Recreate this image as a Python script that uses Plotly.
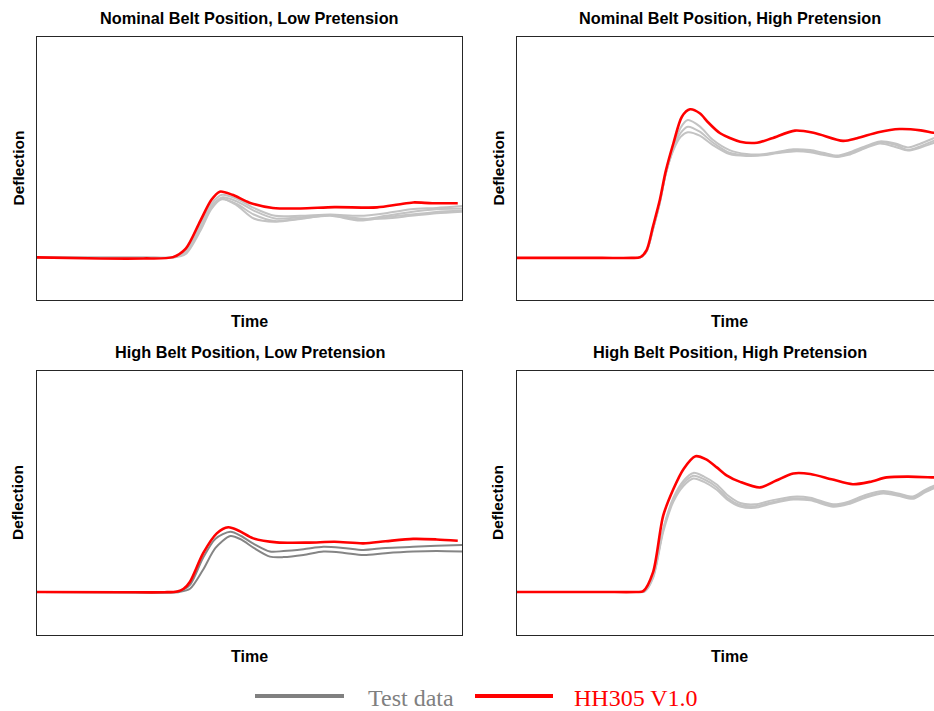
import plotly.graph_objects as go

W, H = 934, 711

# ---------------- data (Deflection in % of axis height, Time in % of panel width) ----------------
titles = ["Nominal Belt Position, Low Pretension", "Nominal Belt Position, High Pretension",
          "High Belt Position, Low Pretension", "High Belt Position, High Pretension"]

# Panel 1: Nominal belt, low pretension
p1_red_t = [0, 15, 25, 32, 35, 38.4, 41, 43, 46, 50, 55.5, 62, 70, 80, 85, 88.5, 93, 99]
p1_red_v = [16.2, 15.8, 15.8, 16.3, 19.5, 30, 38, 41.2, 40, 37, 35, 34.8, 35.3, 35.2, 36.3, 37.1, 36.8, 36.8]
p1_grey_t = [0, 25, 32, 35, 38.5, 41, 43.5, 47, 51, 56, 62, 69, 76, 82, 88, 94, 100]
p1_grey_a = [16.2, 16.2, 16.4, 19, 29, 36.5, 40, 38.5, 35, 32, 32, 32.5, 32, 33, 34.5, 35, 35.7]
p1_grey_b = [16.2, 16.2, 16.2, 18.5, 28, 35.5, 39, 37.5, 34, 31, 31.5, 32.2, 30.5, 32, 33.5, 34.5, 34.8]
p1_grey_c = [16.2, 16.2, 16.2, 18, 27, 35, 38.3, 36.5, 32.5, 30, 31, 32, 30.2, 31.5, 32.5, 33.5, 34]
p1_grey_d = [16.2, 16.2, 16.1, 17.5, 26.5, 34.5, 38.5, 36, 31, 29.8, 30.8, 32.3, 31, 31, 32, 33, 33.6]

# Panel 2: Nominal belt, high pretension
p2_red_t = [0, 20, 27, 29, 30.5, 32, 33.6, 35, 36.8, 38.8, 40.7, 43, 45, 47.8, 52.5, 56.5, 60, 65.4, 70,
            76.7, 80, 85, 90, 95, 98, 100]
p2_red_v = [16, 16, 16, 16.3, 19, 28, 38, 49, 59.6, 69.7, 72.5, 71, 67.5, 63.4, 60.2, 59.8, 61.5, 64.4, 63.5,
            60.5, 61.5, 63.8, 65, 64.5, 63.6, 63.3]
p2_grey_t = [0, 20, 27, 29, 30.5, 32, 33.6, 35, 36.8, 38.5, 40.2, 43, 46, 50, 54, 57.9, 61, 65, 69, 72,
             75.3, 78, 82, 85.4, 89, 92, 95, 98, 100]
p2_grey_a = [16, 16, 16, 16.2, 18.5, 27, 37, 48, 58, 65.5, 68.4, 66, 61, 57, 55.5, 55.4, 56.2, 57.3, 57, 56,
             54.9, 56, 58.5, 60.3, 59.5, 58, 59.5, 61.5, 62.5]
p2_grey_b = [16, 16, 16, 16.2, 18.5, 27, 37, 48, 57.5, 63.5, 65.9, 64, 60, 56, 55, 55.2, 56, 57, 56.5, 55.5,
             54.5, 55.5, 58, 60, 59, 57, 58.5, 60.5, 61.5]
p2_grey_c = [16, 16, 16, 16.2, 18.5, 27, 37, 48, 57, 62, 63.8, 62.5, 59, 55.5, 54.8, 55, 55.8, 56.5, 56.2,
             55.2, 54.4, 55.2, 57.8, 59.5, 58.2, 56.8, 58, 59.7, 60.5]

# Panel 3: High belt, low pretension
p3_red_t = [0, 20, 30, 33, 34.5, 36, 39.1, 42.3, 45, 47.5, 50.9, 56.4, 64, 70, 76.8, 82, 88.5, 94, 99]
p3_red_v = [16.3, 16.2, 16.2, 16.5, 17.5, 20.2, 31, 38.5, 40.8, 39.5, 36.6, 35.1, 35, 35.3, 34.7, 35.5, 36.4,
            36.2, 35.7]
p3_grey_t = [0, 20, 31, 33.5, 36, 39, 42, 45.5, 48, 51, 54.8, 58, 62.7, 67.4, 72, 76.8, 82, 88.5, 94, 100]
p3_grey_a = [16.3, 16.2, 16.2, 16.6, 19, 29, 36.5, 39.1, 37.5, 34.5, 31.6, 31.8, 32.5, 33.4, 33, 32.2, 33,
             33.4, 33.8, 34.1]
p3_grey_b = [16.3, 16.2, 16.1, 16.3, 17.5, 24.5, 33, 37.5, 36.2, 33, 29.7, 29.5, 30.3, 31.6, 31.2, 30.3, 31,
             31.6, 31.8, 31.6]

# Panel 4: High belt, high pretension
p4_red_t = [0, 20, 28, 29.7, 32, 34.4, 36.8, 39.2, 42, 44.5, 47, 49.3, 52.5, 57.2, 61, 65, 69, 74, 79, 83,
            87, 92, 98, 100]
p4_red_v = [16.3, 16.3, 16.3, 16.6, 23.7, 45.2, 55.3, 62.9, 67.7, 66.5, 63.5, 60.5, 58, 55.9, 58.5, 61.2, 61,
            59, 57.1, 58, 59.7, 60, 59.7, 59.6]
p4_grey_t = [0, 20, 28, 30, 32, 34.4, 36.8, 39.2, 41.5, 44, 47, 49.5, 52.5, 56, 60, 65, 69, 74.4, 78, 82,
             86.2, 90, 93.2, 96, 98, 100]
p4_grey_a = [16.3, 16.3, 16.3, 16.5, 22, 40, 52, 58.5, 61.4, 60, 57, 53, 50, 49.5, 51, 52.4, 52, 49.5, 50.5,
             53, 54.5, 53.5, 52.5, 55, 56.5, 57.5]
p4_grey_b = [16.3, 16.3, 16.3, 16.5, 22, 40, 51.5, 57.5, 60.3, 59, 56, 52, 49.3, 48.8, 50.3, 51.8, 51.4, 49,
             50, 52.4, 54, 53, 52, 54.5, 56, 57]
p4_grey_c = [16.3, 16.3, 16.3, 16.4, 21.5, 39, 50.5, 56.5, 59.3, 58, 55, 51.3, 48.7, 48.2, 49.8, 51.3, 51,
             48.6, 49.6, 52, 53.6, 52.6, 51.6, 54, 55.5, 56.5]

legend_labels = ["Test data", "HH305 V1.0"]

RED = "#ff0000"
GREY_LIGHT = "#c3c3c3"
GREY_DARK = "#858585"

panels = [
    dict(red=(p1_red_t, p1_red_v), grey_t=p1_grey_t, greys=[p1_grey_a, p1_grey_b, p1_grey_c, p1_grey_d], gc=GREY_LIGHT),
    dict(red=(p2_red_t, p2_red_v), grey_t=p2_grey_t, greys=[p2_grey_a, p2_grey_b, p2_grey_c], gc=GREY_LIGHT),
    dict(red=(p3_red_t, p3_red_v), grey_t=p3_grey_t, greys=[p3_grey_a, p3_grey_b], gc=GREY_DARK),
    dict(red=(p4_red_t, p4_red_v), grey_t=p4_grey_t, greys=[p4_grey_a, p4_grey_b, p4_grey_c], gc=GREY_LIGHT),
]

# ---------------- layout geometry (page pixels) ----------------
left_x = (37, 462)
right_x = (517, 942)   # right panels are cut off at the window edge (934)
top_y = (37, 300)
bot_y = (371, 635)

def px(x):
    return x / W

def py(y):
    return 1 - y / H

fig = go.Figure()

boxes = [(left_x, top_y), (right_x, top_y), (left_x, bot_y), (right_x, bot_y)]
layout = {}
annotations = []
axis_col = "#262626"
for i, (pan, (bx, by)) in enumerate(zip(panels, boxes)):
    n = i + 1
    xa = "x" if n == 1 else f"x{n}"
    ya = "y" if n == 1 else f"y{n}"
    is_right = bx[0] > 500
    x_dom_right = min(bx[1], W)
    xmax = 100 * (x_dom_right - bx[0]) / (bx[1] - bx[0])
    for g in pan["greys"]:
        fig.add_trace(go.Scatter(x=pan["grey_t"], y=g, mode="lines", xaxis=xa, yaxis=ya,
                                 line=dict(color=pan["gc"], width=2, shape="spline", smoothing=0.8),
                                 showlegend=False, hoverinfo="skip"))
    fig.add_trace(go.Scatter(x=pan["red"][0], y=pan["red"][1], mode="lines", xaxis=xa, yaxis=ya,
                             line=dict(color=RED, width=2.6, shape="spline", smoothing=0.8),
                             showlegend=False, hoverinfo="skip"))
    layout[f"xaxis{'' if n == 1 else n}"] = dict(
        domain=[px(bx[0]), min(1.0, px(x_dom_right))], range=[0, xmax], anchor=ya,
        showticklabels=False, ticks="", showgrid=False, zeroline=False,
        showline=True, mirror=True, linecolor=axis_col, linewidth=1, fixedrange=True)
    layout[f"yaxis{'' if n == 1 else n}"] = dict(
        domain=[py(by[1]), py(by[0])], range=[0, 100], anchor=xa,
        showticklabels=False, ticks="", showgrid=False, zeroline=False,
        showline=True, mirror=(not is_right), linecolor=axis_col, linewidth=1, fixedrange=True)
    cx = (bx[0] + bx[1]) / 2
    cy = (by[0] + by[1]) / 2
    annotations.append(dict(text=f"<b>{titles[i]}</b>", x=px(cx), y=py(by[0] - 19), xref="paper", yref="paper",
                            showarrow=False, xanchor="center", yanchor="middle",
                            font=dict(family="Liberation Sans, Arial", size=16.3, color="#000")))
    annotations.append(dict(text="<b>Time</b>", x=px(cx), y=py(by[1] + 21), xref="paper", yref="paper",
                            showarrow=False, xanchor="center", yanchor="middle",
                            font=dict(family="Liberation Sans, Arial", size=16, color="#000")))
    annotations.append(dict(text="<b>Deflection</b>", x=px(bx[0] - 19), y=py(cy), xref="paper", yref="paper",
                            showarrow=False, xanchor="center", yanchor="middle", textangle=-90,
                            font=dict(family="Liberation Sans, Arial", size=15.5, color="#000")))

# legend (drawn manually to match the wide line samples)
shapes = [
    dict(type="line", xref="paper", yref="paper", x0=px(255), x1=px(344), y0=py(696), y1=py(696),
         line=dict(color="#808080", width=4)),
    dict(type="line", xref="paper", yref="paper", x0=px(475), x1=px(553), y0=py(696), y1=py(696),
         line=dict(color=RED, width=4)),
]
annotations.append(dict(text=legend_labels[0], x=px(366), y=py(698), xref="paper", yref="paper",
                        showarrow=False, xanchor="left", yanchor="middle",
                        font=dict(family="Liberation Serif, Times New Roman", size=24, color="#808080")))
annotations.append(dict(text=legend_labels[1], x=px(572), y=py(698), xref="paper", yref="paper",
                        showarrow=False, xanchor="left", yanchor="middle",
                        font=dict(family="Liberation Serif, Times New Roman", size=24, color=RED)))

fig.update_layout(width=W, height=H, margin=dict(l=0, r=0, t=0, b=0), paper_bgcolor="white",
                  plot_bgcolor="white", showlegend=False, annotations=annotations, shapes=shapes, **layout)

fig.write_html("out.html", config={"displayModeBar": False},
               post_script="document.body.style.margin='0';document.body.style.overflow='hidden';")
